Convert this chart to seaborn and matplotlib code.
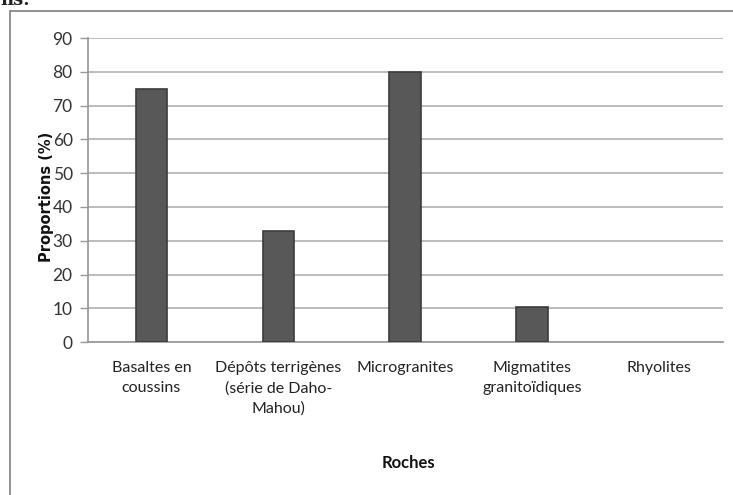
import matplotlib
matplotlib.use("Agg")
import matplotlib.pyplot as plt
from matplotlib.lines import Line2D
import seaborn as sns
import pandas as pd

# data
roches = ["Basaltes en\ncoussins", "Dépôts terrigènes\n(série de Daho-\nMahou)",
          "Microgranites", "Migmatites\ngranitoïdiques", "Rhyolites"]
proportions = [75, 33, 80, 10.5, 0]
yticks = [0, 10, 20, 30, 40, 50, 60, 70, 80, 90]

df = pd.DataFrame({"Roches": roches, "Proportions": proportions})

sns.set_theme(style="white")
plt.rcParams["font.family"] = ["Lato", "DejaVu Sans"]

fig = plt.figure(figsize=(7.33, 4.95), dpi=100)
ax = fig.add_axes([0.12, 0.309, 0.866, 0.614])

sns.barplot(data=df, x="Roches", y="Proportions", color="#585858",
            width=0.25, edgecolor="#3c3c3c", linewidth=1.2, ax=ax, zorder=3)
# a zero bar shows nothing in the reference
for p in ax.patches:
    if p.get_height() == 0:
        p.set_visible(False)

ax.set_ylim(0, 90)
ax.set_yticks(yticks)
ax.set_yticklabels([str(v) for v in yticks], fontsize=12.5, color="#333333")
ax.yaxis.grid(True, color="#b0b0b0", linewidth=1.2, zorder=0)
ax.tick_params(axis="y", length=6, width=1, color="#999999", pad=5, left=True)
ax.tick_params(axis="x", length=0, pad=14, labelsize=11.5, labelcolor="#222222")
for lbl in ax.get_xticklabels():
    lbl.set_linespacing(1.5)
for s in ["top", "right"]:
    ax.spines[s].set_visible(False)
ax.spines["left"].set_color("#999999")
ax.spines["bottom"].set_color("#999999")

ax.set_xlabel("")
ax.set_ylabel("")
fig.text(0.557, 0.065, "Roches", ha="center", va="center",
         fontsize=12, fontweight="bold", color="#111111")
fig.text(0.064, 0.602, "Proportions (%)", ha="center", va="center", rotation=90,
         fontsize=10.5, fontweight="bold", color="#111111", family="DejaVu Sans")

# outer frame (left and top edges visible in the reference)
fig.add_artist(Line2D([0.014, 0.014], [0.0, 0.978], transform=fig.transFigure,
                      color="#888888", linewidth=1.3))
fig.add_artist(Line2D([0.014, 1.0], [0.978, 0.978], transform=fig.transFigure,
                      color="#888888", linewidth=1.3))
fig.text(0.0, 1.0, "ns.", ha="left", va="center", fontsize=13,
         family="DejaVu Serif", fontweight="bold", color="#222222")

fig.savefig("out.png", dpi=100)
